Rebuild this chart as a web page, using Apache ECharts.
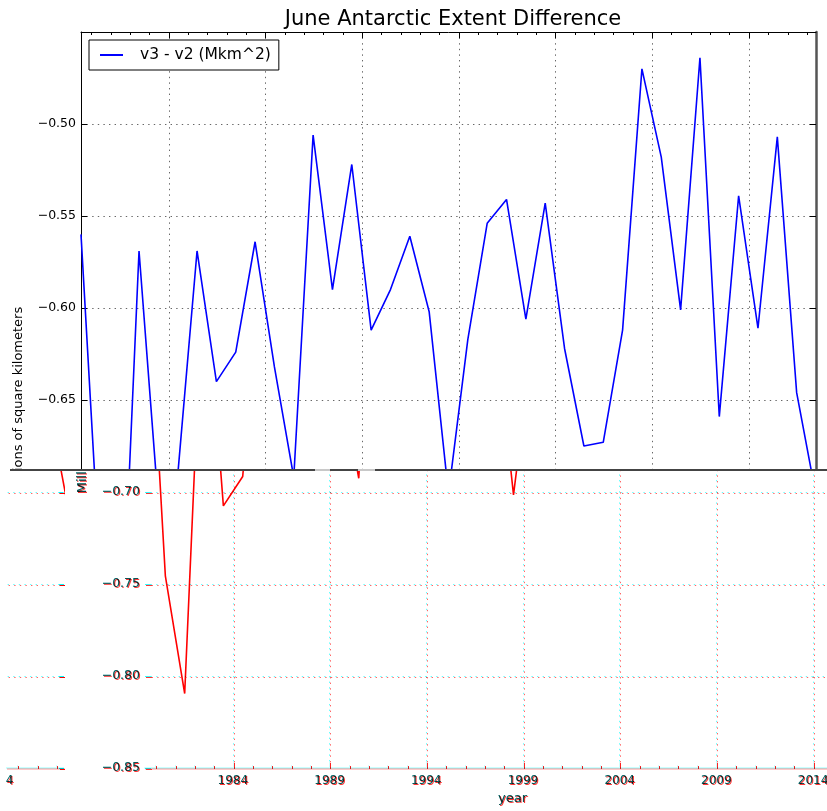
<!DOCTYPE html>
<html>
<head>
<meta charset="utf-8">
<script src="https://cdn.jsdelivr.net/npm/echarts@6/dist/echarts.min.js"></script>
<style>
  html, body { margin: 0; padding: 0; background: #fff; }
  body { width: 827px; height: 811px; position: relative; overflow: hidden; }
  .pane { position: absolute; overflow: hidden; }
  .chart { position: absolute; width: 827px; height: 811px; }
  .band { left: 0; top: 0; width: 827px; height: 341px; }
  .wrap { left: 6px; top: 0; width: 58px; height: 341px; }
  .seam { position: absolute; top: 469px; height: 2px; }
</style>
</head>
<body>
<!-- channel splitters for the offset lower band -->
<svg width="0" height="0" style="position:absolute">
  <filter id="chanR" color-interpolation-filters="sRGB">
    <feColorMatrix type="matrix" values="1 0 0 0 0  0 0 0 0 1  0 0 0 0 1  0 0 0 1 0"/>
  </filter>
  <filter id="chanGB" color-interpolation-filters="sRGB">
    <feColorMatrix type="matrix" values="0 0 0 0 1  0 1 0 0 0  0 0 1 0 0  0 0 0 1 0"/>
  </filter>
</svg>

<div class="pane" style="left:0;top:0;width:827px;height:470px">
  <div class="chart" id="cUpper" style="left:0;top:0"></div>
</div>

<div class="pane" style="left:0;top:470px;width:827px;height:341px;isolation:isolate;background:#fff">
  <!-- red channel -->
  <div class="pane band" style="filter:url(#chanR)">
    <div class="chart" id="cLowR" style="left:64px;top:-470px"></div>
    <div class="pane wrap"><div class="chart" id="cWrapR" style="left:-757px;top:-470px"></div></div>
  </div>
  <!-- green/blue channels, nudged by one pixel -->
  <div class="pane band" style="left:1px;top:1px;filter:url(#chanGB);mix-blend-mode:multiply">
    <div class="chart" id="cLowGB" style="left:64px;top:-470px"></div>
    <div class="pane wrap"><div class="chart" id="cWrapGB" style="left:-757px;top:-470px"></div></div>
  </div>
  <!-- text cores -->
  <div class="pane band" style="mix-blend-mode:multiply">
    <div class="chart" id="cLowTxt" style="left:64px;top:-470px"></div>
    <div class="pane wrap"><div class="chart" id="cWrapTxt" style="left:-757px;top:-470px"></div></div>
  </div>
</div>

<!-- seam between the two bands -->
<div class="seam" style="left:10px;width:817px;background:#444"></div>
<div class="seam" style="left:315px;width:15px;background:#c8c8c8"></div>
<div class="seam" style="left:358px;width:17px;background:#c8c8c8"></div>

<script>
// June sea-ice extent difference, v3 minus v2 (million km^2)
const years = [1979, 1980, 1981, 1982, 1983, 1984, 1985, 1986, 1987, 1988,
               1989, 1990, 1991, 1992, 1993, 1994, 1995, 1996, 1997, 1998,
               1999, 2000, 2001, 2002, 2003, 2004, 2005, 2006, 2007, 2008,
               2009, 2010, 2011, 2012, 2013, 2014, 2015, 2016, 2017];
const diffMkm2 = [-0.560, -0.745, -0.809, -0.569, -0.707, -0.691, -0.569, -0.640, -0.624, -0.564,
                  -0.632, -0.692, -0.506, -0.590, -0.522, -0.612, -0.590, -0.561, -0.602, -0.701,
                  -0.617, -0.554, -0.541, -0.606, -0.543, -0.622, -0.675, -0.673, -0.612, -0.470,
                  -0.518, -0.601, -0.464, -0.659, -0.539, -0.611, -0.507, -0.646, -0.702];
const majorYearTicks = [1984, 1989, 1994, 1999, 2004, 2009, 2014];
const yTicks = [-0.85, -0.80, -0.75, -0.70, -0.65, -0.60, -0.55, -0.50, -0.45];
const seriesName = 'v3 - v2 (Mkm^2)';
const titleText = 'June Antarctic Extent Difference';
const yName = 'Millions of square kilometers';
const xName = 'year';

// each value is a mid-June sample, placed on a decimal-year axis
const juneOffset = 0.46;
const minorYearTicks = years.slice(1).filter(y => majorYearTicks.indexOf(y) < 0);
const points = years.map((y, i) => [y + juneOffset, diffMkm2[i]]);

const FONT = 'DejaVu Sans';
const fmtY = v => (v < 0 ? '\u2212' : '') + Math.abs(v).toFixed(2);

// mode: 'upper' (normal blue plot), 'lower' (red plot band), 'text' (labels only)
function buildOption(mode) {
  const lower = mode !== 'upper';
  const textOnly = mode === 'text';
  const lines = !textOnly;
  const txt = mode === 'upper' ? '#000' : (textOnly ? '#555' : '#333');
  const gridDots = { color: '#666', width: 1, type: [1.4, 4.2] };
  const xMin = years[0] + juneOffset;
  const xMax = years[years.length - 1] + juneOffset;
  const xBase = {
    type: 'value', min: xMin, max: xMax,
    axisLabel: { show: false },
    splitLine: { show: false }
  };
  const tickRed = lower ? '#cc2222' : '#000';
  return {
    animation: false,
    backgroundColor: '#fff',
    title: {
      text: titleText, left: 448, top: 4, textAlign: 'center',
      textStyle: { fontFamily: FONT, fontSize: 21, fontWeight: 'normal', color: '#000' }
    },
    legend: {
      data: [seriesName], left: 89, top: 40, padding: [7, 8, 7, 11],
      borderColor: '#000', borderWidth: 1, backgroundColor: '#fff', borderRadius: 0,
      itemWidth: 23, itemHeight: 2, icon: 'rect', selectedMode: false,
      textStyle: { fontFamily: FONT, fontSize: 15.5, color: '#000', padding: [0, 0, 0, 12] }
    },
    grid: { left: 81, right: 11, top: 32, bottom: 43, containLabel: false, outerBoundsMode: 'none' },
    xAxis: [
      Object.assign({}, xBase, {
        position: 'bottom',
        name: xName, nameLocation: 'middle', nameGap: 24,
        nameTextStyle: { fontFamily: FONT, fontSize: 13, color: txt },
        axisLine: { show: lines, lineStyle: lower ? { color: '#c8c8c8', width: 2 } : { color: '#000', width: 1 } },
        axisTick: { show: lines, inside: true, length: 6, customValues: majorYearTicks, lineStyle: { color: tickRed } },
        axisLabel: { show: true, customValues: majorYearTicks, margin: 7,
                     formatter: v => String(Math.round(v)),
                     fontFamily: FONT, fontSize: 12, color: txt },
        splitLine: { show: lines, lineStyle: gridDots }
      }),
      Object.assign({}, xBase, {
        position: 'top',
        axisLine: { show: !lower, lineStyle: { color: '#000', width: 1 } },
        axisTick: { show: lines, inside: true, length: 6, customValues: majorYearTicks, lineStyle: { color: '#000' } }
      }),
      Object.assign({}, xBase, {
        position: 'bottom',
        axisLine: { show: false },
        axisTick: { show: lines, inside: true, length: 3, customValues: minorYearTicks, lineStyle: { color: tickRed } }
      }),
      Object.assign({}, xBase, {
        position: 'top',
        axisLine: { show: false },
        axisTick: { show: lines, inside: true, length: 3, customValues: minorYearTicks, lineStyle: { color: '#000' } }
      })
    ],
    yAxis: [
      {
        type: 'value', position: 'left', min: yTicks[0], max: yTicks[yTicks.length - 1], interval: 0.05,
        name: yName, nameLocation: 'middle', nameGap: 56, nameRotate: 90,
        nameTextStyle: { fontFamily: FONT, fontSize: 13, color: txt },
        axisLine: { show: !lower, lineStyle: { color: '#000', width: 1 } },
        axisTick: { show: lines, inside: true, length: 6, lineStyle: { color: lower ? '#333' : '#000' } },
        axisLabel: { show: true, margin: 5, showMaxLabel: false, formatter: fmtY,
                     fontFamily: FONT, fontSize: 12.5, color: txt },
        splitLine: { show: lines, lineStyle: gridDots }
      },
      {
        type: 'value', position: 'right', min: yTicks[0], max: yTicks[yTicks.length - 1], interval: 0.05,
        axisLine: { show: lines, lineStyle: { color: '#555', width: 2.5 } },
        axisTick: { show: lines, inside: true, length: 6, lineStyle: { color: '#000' } },
        axisLabel: { show: false },
        splitLine: { show: false }
      }
    ],
    series: [{
      name: seriesName, type: 'line', xAxisIndex: 0, yAxisIndex: 0,
      data: points, showSymbol: false, symbol: 'none', clip: true,
      itemStyle: { color: lower ? '#ff0000' : '#0000ff' },
      lineStyle: { color: lower ? '#ff0000' : '#0000ff', width: 1.6, opacity: textOnly ? 0 : 1 }
    }]
  };
}

function mount(id, mode) {
  const chart = echarts.init(document.getElementById(id), null, { renderer: 'canvas', width: 827, height: 811 });
  chart.setOption(buildOption(mode));
  return chart;
}

mount('cUpper', 'upper');
['cLowR', 'cWrapR', 'cLowGB', 'cWrapGB'].forEach(id => mount(id, 'lower'));
['cLowTxt', 'cWrapTxt'].forEach(id => mount(id, 'text'));
</script>
</body>
</html>
